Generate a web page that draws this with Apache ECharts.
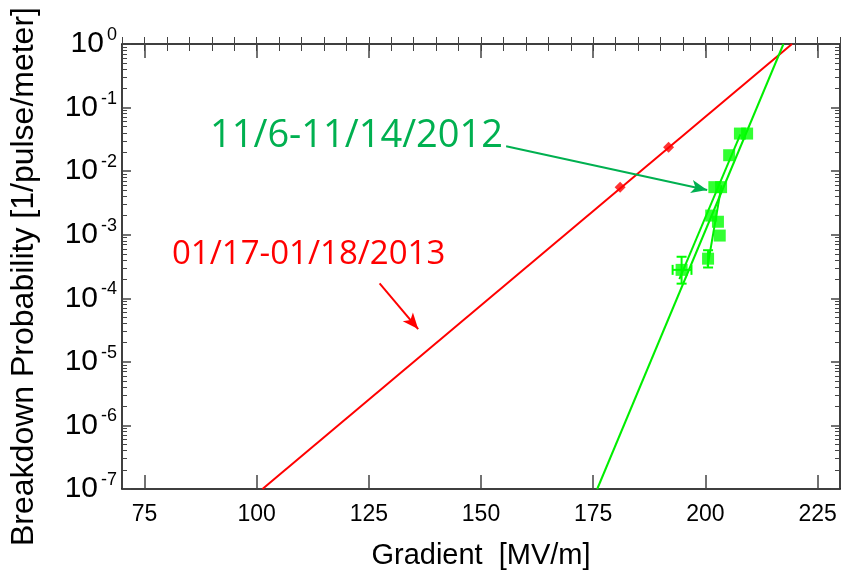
<!DOCTYPE html>
<html><head><meta charset="utf-8">
<script src="https://cdn.jsdelivr.net/npm/echarts@6/dist/echarts.min.js"></script>
<style>html,body{margin:0;padding:0;background:#fff}#c{width:842px;height:575px}</style>
</head><body><div id="c"></div>
<script>
// ---------- data ----------
const xMin = 70, xMax = 230;
const xMajorTicks = [75, 100, 125, 150, 175, 200, 225];
const yDecades = [-7, -6, -5, -4, -3, -2, -1, 0];

// 01/17-01/18/2013 (red)
const redG = [181.0, 191.8];
const redP = [5.6e-3, 2.37e-2];
const redFitG = [101.3, 219.3];
const redFitP = [1e-7, 1];

// 11/6-11/14/2012 (green)
const greenG = [194.7, 200.6, 201.3, 202.8, 203.2, 202.0, 203.5, 205.3, 207.7, 209.3];
const greenP = [2.8e-4, 4.2e-4, 2.0e-3, 1.6e-3, 9.7e-4, 5.6e-3, 5.6e-3, 1.78e-2, 3.9e-2, 3.9e-2];
const greenFitAG = [175.9, 217.4];
const greenFitAP = [1e-7, 1];
const greenFitBG = [194.2, 207.8];
const greenFitBP = [2.0e-4, 3.8e-2];
const greenFitCG = [200.5, 203.6];
const greenFitCP = [3.2e-4, 6.0e-3];

// error bars: G, P, P low, P high, G low, G high
const errG = [194.7, 200.6];
const errP = [2.8e-4, 4.2e-4];
const errPLow = [1.7e-4, 3.05e-4];
const errPHigh = [4.5e-4, 5.7e-4];
const errGLow = [192.7, 200.6];
const errGHigh = [196.9, 200.6];

// annotations
const greenLabel = '11/6-11/14/2012';
const redLabel = '01/17-01/18/2013';
const greenArrowG = [155.6, 200.4];
const greenArrowP = [2.46e-2, 5.05e-3];
const redArrowG = [127.4, 136.0];
const redArrowP = [1.71e-4, 3.28e-5];

// ---------- build ----------
const L = v => Math.log10(v);
const pairs = (gs, ps) => gs.map((g, i) => [g, L(ps[i])]);
const yMinor = [];
yDecades.slice(0, -1).forEach(d => { for (let k = 2; k <= 9; k++) yMinor.push(d + Math.log10(k)); });

const F = "'Liberation Sans', Arial, sans-serif";
const RED = '#ff0000', GREEN_LINE = '#00ee00', GREEN_PT = '#00ff00', ANNO_GREEN = '#00b050';
const axLine = { show: true, onZero: false, lineStyle: { color: '#000', width: 1.5 } };
const tickStyle = { color: '#444', width: 1.5 };
const minorStyle = { color: '#444', width: 1 };

function xAx(pos, major, labels) {
  const a = {
    type: 'value', position: pos, min: xMin, max: xMax, gridIndex: 0,
    splitLine: { show: false },
    axisLine: major ? axLine : { show: false },
  };
  if (major) {
    a.axisTick = { show: true, inside: true, length: 14, customValues: xMajorTicks, lineStyle: tickStyle };
    a.axisLabel = labels ? { show: true, customValues: xMajorTicks, fontSize: 23, fontFamily: F, color: '#000', margin: 14 } : { show: false };
  } else {
    a.interval = 5;
    a.axisTick = { show: true, inside: true, length: 7, lineStyle: minorStyle };
    a.axisLabel = { show: false };
  }
  if (labels) {
    a.name = 'Gradient  [MV/m]';
    a.nameLocation = 'middle';
    a.nameGap = 52;
    a.nameTextStyle = { fontSize: 29, fontFamily: F, color: '#000' };
  }
  return a;
}
function yAx(pos, major, labels) {
  const a = {
    type: 'value', position: pos, min: -7, max: 0, gridIndex: 0,
    splitLine: { show: false },
    axisLine: major ? axLine : { show: false },
  };
  if (major) {
    a.interval = 1;
    a.axisTick = { show: true, inside: true, length: 9, lineStyle: tickStyle };
    a.axisLabel = labels ? {
      show: true, margin: 5,
      formatter: v => '{b|10}{e|' + Math.round(v) + '}',
      rich: {
        b: { fontSize: 30, fontFamily: F, color: '#000', lineHeight: 36 },
        e: { fontSize: 18, fontFamily: F, color: '#000', lineHeight: 18, verticalAlign: 'top', padding: [0, 0, 0, 3] }
      }
    } : { show: false };
  } else {
    a.axisTick = { show: true, inside: true, length: 5, customValues: yMinor, lineStyle: minorStyle };
    a.axisLabel = { show: false };
  }
  if (labels) {
    a.name = 'Breakdown Probability [1/pulse/meter]';
    a.nameLocation = 'middle';
    a.nameRotate = 90;
    a.nameGap = 82;
    a.nameTextStyle = { fontSize: 32, fontFamily: F, color: '#000', padding: [0, 20, 0, 0] };
  }
  return a;
}

function fitLine(gs, ps, color, arrow) {
  const s = {
    type: 'line', xAxisIndex: 0, yAxisIndex: 0, data: pairs(gs, ps),
    showSymbol: false, symbol: 'none', silent: true, z: 2,
    lineStyle: { color: color, width: 2 }
  };
  if (arrow) {
    s.markLine = {
      silent: true, symbol: ['none', 'arrow'], symbolSize: [10, 16],
      label: { show: false },
      lineStyle: { color: arrow.color, width: 2, type: 'solid' },
      data: [[{ coord: [arrow.g[0], L(arrow.p[0])] }, { coord: [arrow.g[1], L(arrow.p[1])] }]]
    };
  }
  return s;
}

const errData = errG.map((g, i) => [g, L(errP[i]), L(errPLow[i]), L(errPHigh[i]), errGLow[i], errGHigh[i]]);

const option = {
  animation: false,
  backgroundColor: '#fff',
  grid: { left: 115, right: 2, top: 44, bottom: 83, containLabel: false },
  xAxis: [xAx('bottom', true, true), xAx('bottom', false, false), xAx('top', true, false), xAx('top', false, false)],
  yAxis: [yAx('left', true, true), yAx('left', false, false), yAx('right', true, false), yAx('right', false, false)],
  series: [
    fitLine(redFitG, redFitP, RED, { color: RED, g: redArrowG, p: redArrowP }),
    fitLine(greenFitAG, greenFitAP, GREEN_LINE, { color: ANNO_GREEN, g: greenArrowG, p: greenArrowP }),
    fitLine(greenFitBG, greenFitBP, GREEN_LINE),
    fitLine(greenFitCG, greenFitCP, GREEN_LINE),
    {
      type: 'custom', xAxisIndex: 0, yAxisIndex: 0, data: errData, z: 3, silent: true,
      renderItem: function (params, api) {
        const g = api.value(0), y = api.value(1), lo = api.value(2), hi = api.value(3), gl = api.value(4), gh = api.value(5);
        const st = { stroke: GREEN_PT, lineWidth: 2 };
        const a = api.coord([g, lo]), b = api.coord([g, hi]);
        const c = 5;
        const ch = [
          { type: 'line', shape: { x1: a[0], y1: a[1], x2: b[0], y2: b[1] }, style: st },
          { type: 'line', shape: { x1: a[0] - c, y1: a[1], x2: a[0] + c, y2: a[1] }, style: st },
          { type: 'line', shape: { x1: b[0] - c, y1: b[1], x2: b[0] + c, y2: b[1] }, style: st }
        ];
        if (gh > gl) {
          const p = api.coord([gl, y]), q = api.coord([gh, y]);
          ch.push({ type: 'line', shape: { x1: p[0], y1: p[1], x2: q[0], y2: q[1] }, style: st });
          ch.push({ type: 'line', shape: { x1: p[0], y1: p[1] - c, x2: p[0], y2: p[1] + c }, style: st });
          ch.push({ type: 'line', shape: { x1: q[0], y1: q[1] - c, x2: q[0], y2: q[1] + c }, style: st });
        }
        return { type: 'group', children: ch };
      }
    },
    {
      type: 'scatter', xAxisIndex: 0, yAxisIndex: 0, data: pairs(greenG, greenP),
      symbol: 'rect', symbolSize: 12, itemStyle: { color: GREEN_PT }, z: 4, silent: true
    },
    {
      type: 'scatter', xAxisIndex: 0, yAxisIndex: 0, data: pairs(redG, redP),
      symbol: 'diamond', symbolSize: 11, itemStyle: { color: RED }, z: 4, silent: true
    }
  ],
  graphic: [
    { type: 'text', left: 210, top: 117, silent: true,
      style: { text: greenLabel, fill: ANNO_GREEN, font: "38px 'Open Sans', sans-serif" } },
    { type: 'text', left: 172, top: 238, silent: true,
      style: { text: redLabel, fill: RED, font: "33px 'Open Sans', sans-serif" } }
  ]
};

const chart = echarts.init(document.getElementById('c'), null, { renderer: 'canvas' });
chart.setOption(option);
</script>
</body></html>
